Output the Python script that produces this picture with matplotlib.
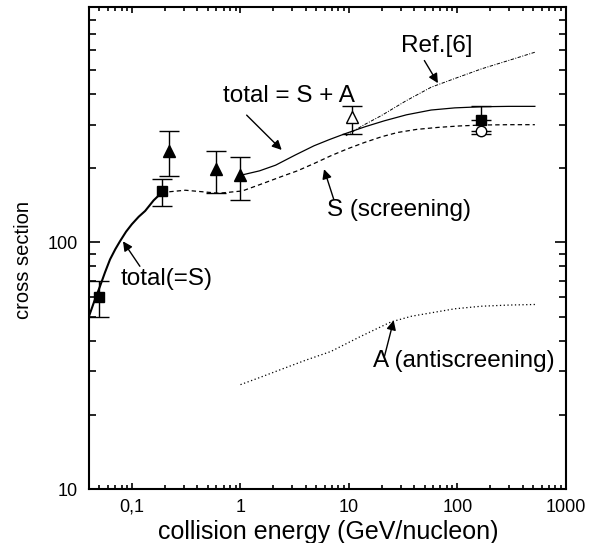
import numpy as np
import matplotlib.pyplot as plt
from matplotlib.ticker import FixedLocator, FixedFormatter, NullFormatter

# curves
x_tot_low = [0.040, 0.0448, 0.0506, 0.0562, 0.0626, 0.0700, 0.0775, 0.0880, 0.0994, 0.115, 0.132, 0.158, 0.188]
y_tot_low = [50.1, 57.7, 66.4, 75.5, 85.3, 93.8, 101.2, 110.5, 118.4, 127, 134.1, 148, 159.3]

x_scr = [0.188, 0.31, 0.63, 1.04, 1.64, 2.4, 3.35, 4.8, 6.81, 9.6, 13.9, 20, 28.2, 42, 66.3, 105, 167, 300, 520]
y_scr = [159.3, 162.7, 158.2, 161.6, 173.8, 185, 195, 209, 224.4, 239, 254, 268, 279, 287, 292.5, 296.5, 299, 300, 300]

x_tot = [1.0, 1.5, 2.11, 3.2, 4.77, 6.6, 9.04, 14, 21.2, 34, 57.4, 95, 167, 300, 520]
y_tot = [187, 195, 205.6, 226, 246.4, 261, 274.9, 294, 311, 329, 344, 351, 354.7, 356, 356]

x_ref6 = [9.38, 13.5, 19.8, 33.7, 57.4, 97.9, 167, 300, 520]
y_ref6 = [270.5, 298, 326, 375, 425.6, 464, 505, 547, 590]

x_anti = [1.0, 1.5, 2.35, 4.0, 6.81, 12.9, 24.5, 38, 57.4, 95, 167, 300, 520]
y_anti = [26.5, 28.3, 30.5, 33.3, 36.1, 41.6, 47.6, 50.2, 51.8, 53.8, 55.1, 55.7, 56.0]

# measurements
x_sq = [0.05, 0.188, 167]
y_sq = [60, 161, 314]
sq_lo = [10, 20.5, 0]
sq_hi = [10, 20, 42]

x_tri = [0.218, 0.6, 1.0]
y_tri = [235, 198, 187]
tri_lo = [49, 40, 38]
tri_hi = [47, 37, 35]

x_otri = [10.8]
y_otri = [321]
otri_lo = [46]
otri_hi = [35]

x_circ = [167]
y_circ = [283]
circ_lo = [8]
circ_hi = [0]

xticks = [0.1, 1, 10, 100, 1000]
xticklabels = ["0,1", "1", "10", "100", "1000"]
yticks = [10, 100]
yticklabels = ["10", "100"]

plt.rcParams['font.family'] = ['Liberation Sans', 'DejaVu Sans']

fig = plt.figure(figsize=(5.97, 5.43), dpi=100)
ax = fig.add_axes([0.149, 0.0994, 0.7985, 0.8877])
ax.set_xscale('log')
ax.set_yscale('log')
ax.set_xlim(0.04, 1000)
ax.set_ylim(10, 900)

ax.plot(x_tot_low, y_tot_low, color='k', lw=1.5)
ax.plot(x_scr, y_scr, color='k', lw=0.9, ls=(0, (3.5, 2.5)))
ax.plot(x_tot, y_tot, color='k', lw=0.9)
ax.plot(x_ref6, y_ref6, color='k', lw=0.7, ls=(0, (3.5, 1.5, 1, 1.5)))
ax.plot(x_anti, y_anti, color='k', lw=0.9, ls=(0, (1, 2)))

eb = dict(color='k', elinewidth=1, capsize=7, capthick=1, ls='none')
ax.errorbar(x_sq, y_sq, yerr=[sq_lo, sq_hi], marker='s', ms=7, mfc='k', mec='k', **eb)
ax.errorbar(x_tri, y_tri, yerr=[tri_lo, tri_hi], marker='^', ms=9, mfc='k', mec='k', **eb)
ax.errorbar(x_otri, y_otri, yerr=[otri_lo, otri_hi], marker='^', ms=8, mfc='w', mec='k', **eb)
ax.errorbar(x_circ, y_circ, yerr=[circ_lo, circ_hi], marker='o', ms=7.5, mfc='w', mec='k', **eb)

arr = dict(arrowstyle='-|>', color='k', lw=1, mutation_scale=14, shrinkA=0, shrinkB=0)
fs = 17.5
ax.annotate("total = S + A", xy=(2.4, 237), xytext=(0.69, 393), fontsize=fs,
            ha='left', va='center')
ax.annotate("", xy=(2.4, 237), xytext=(1.14, 328), arrowprops=arr)
ax.annotate("Ref.[6]", xy=(66.3, 442), xytext=(30.3, 626), fontsize=fs,
            ha='left', va='center')
ax.annotate("", xy=(66.3, 442), xytext=(49.7, 546), arrowprops=arr)
ax.annotate("S (screening)", xy=(5.9, 198), xytext=(6.25, 135), fontsize=fs,
            ha='left', va='center')
ax.annotate("", xy=(5.9, 198), xytext=(7.25, 149.5), arrowprops=arr)
ax.annotate("total(=S)", xy=(0.0824, 101), xytext=(0.0786, 71), fontsize=fs,
            ha='left', va='center')
ax.annotate("", xy=(0.0824, 101), xytext=(0.118, 80), arrowprops=arr)
ax.annotate("A (antiscreening)", xy=(25.9, 48.3), xytext=(16.6, 33), fontsize=fs,
            ha='left', va='center')
ax.annotate("", xy=(25.9, 48.3), xytext=(21.3, 34.5), arrowprops=arr)

ax.xaxis.set_major_locator(FixedLocator(xticks))
ax.xaxis.set_major_formatter(FixedFormatter(xticklabels))
ax.xaxis.set_minor_formatter(NullFormatter())
ax.yaxis.set_major_locator(FixedLocator(yticks))
ax.yaxis.set_major_formatter(FixedFormatter(yticklabels))
ax.yaxis.set_minor_formatter(NullFormatter())

ax.tick_params(which='both', direction='in', top=True, right=True, width=1.2)
ax.tick_params(axis='x', which='major', length=4.5, pad=7, labelsize=13)
ax.tick_params(axis='x', which='minor', length=3)
ax.tick_params(axis='y', which='major', length=8, pad=8, labelsize=13)
ax.tick_params(axis='y', which='minor', length=5)
for s in ax.spines.values():
    s.set_linewidth(1.5)

ax.set_xlabel("collision energy (GeV/nucleon)", fontsize=18)
ax.set_ylabel("cross section", fontsize=14.5)
ax.yaxis.set_label_coords(-0.118, 0.475)
ax.xaxis.set_label_coords(0.501, -0.064)

fig.savefig("out.png", dpi=100)
